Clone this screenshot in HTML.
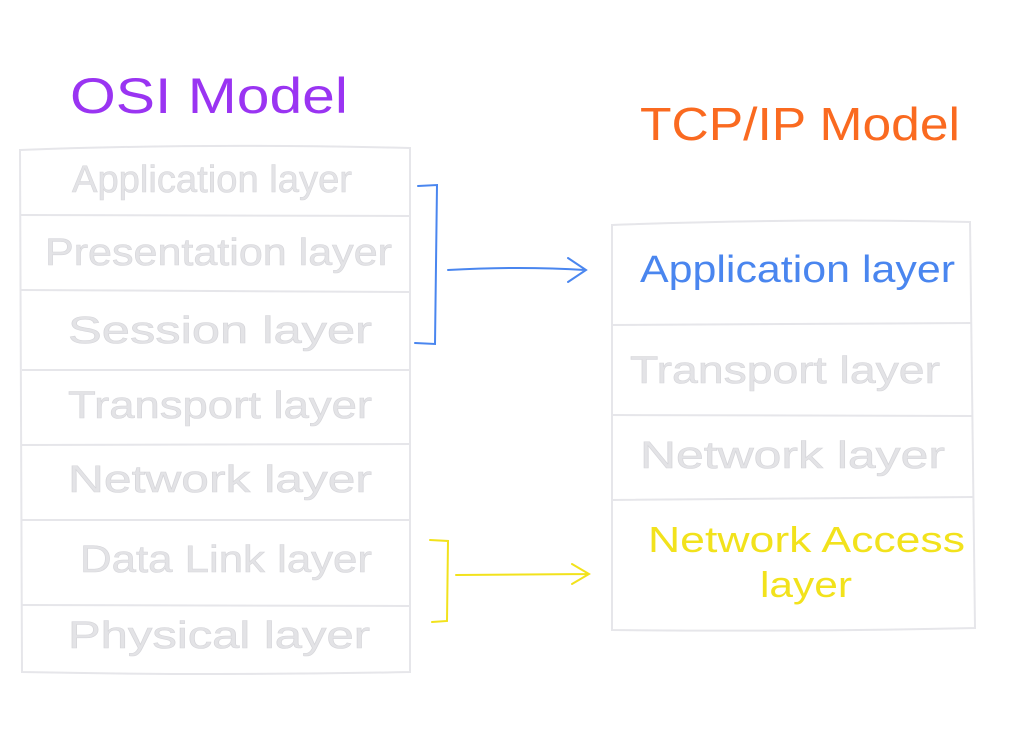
<!DOCTYPE html>
<html><head><style>html,body{margin:0;padding:0;background:#fff;width:1024px;height:739px;overflow:hidden}</style></head>
<body>
<svg width="1024" height="739" viewBox="0 0 1024 739" xmlns="http://www.w3.org/2000/svg" font-family="Liberation Sans, sans-serif">
<rect width="1024" height="739" fill="#fff"/>
<g fill="none" stroke="#e6e6ea" stroke-width="2">
<path d="M20 150 Q200 143 410 148 L410 672 Q220 676 22 672 Z"/>
<path d="M20 215 L410 216 M20 290 L410 292 M22 370 L410 370 M22 445 L410 444 M22 520 L410 520 M22 605 L410 606"/>
<path d="M612 225 Q800 218 970 222 L975 628 Q800 632 612 630 Z"/>
<path d="M612 325 L972 323 M612 415 L972 416 M612 500 L974 497"/>
</g>
<g fill="#e3e3e6" stroke="#d6d6da" stroke-width="0.6" font-size="38">
<text x="72" y="192" textLength="280" lengthAdjust="spacingAndGlyphs">Application layer</text>
<text x="45" y="265" textLength="347" lengthAdjust="spacingAndGlyphs">Presentation layer</text>
<text x="68" y="343" textLength="304" lengthAdjust="spacingAndGlyphs">Session layer</text>
<text x="68" y="418" textLength="304" lengthAdjust="spacingAndGlyphs">Transport layer</text>
<text x="68" y="492" textLength="304" lengthAdjust="spacingAndGlyphs">Network layer</text>
<text x="80" y="572" textLength="292" lengthAdjust="spacingAndGlyphs">Data Link layer</text>
<text x="68" y="648" textLength="302" lengthAdjust="spacingAndGlyphs">Physical layer</text>
<text x="630" y="383" textLength="310" lengthAdjust="spacingAndGlyphs">Transport layer</text>
<text x="640" y="468" textLength="305" lengthAdjust="spacingAndGlyphs">Network layer</text>
</g>
<text x="70" y="113" font-size="50" fill="#9a34f2" textLength="278" lengthAdjust="spacingAndGlyphs">OSI Model</text>
<text x="640" y="140" font-size="46" fill="#fa6a20" textLength="320" lengthAdjust="spacingAndGlyphs">TCP/IP Model</text>
<text x="640" y="282" font-size="38" fill="#4a86ef" textLength="315" lengthAdjust="spacingAndGlyphs">Application layer</text>
<text x="648" y="552" font-size="36" fill="#f2e21c" textLength="317" lengthAdjust="spacingAndGlyphs">Network Access</text>
<text x="760" y="597" font-size="36" fill="#f2e21c" textLength="92" lengthAdjust="spacingAndGlyphs">layer</text>
<g fill="none" stroke="#4a86ef" stroke-width="2" stroke-linecap="round">
<path d="M418 186 L437 185 L435 344 L415 343"/>
<path d="M448 270 Q520 266 585 270 M568 258 L586 270 L568 282"/>
</g>
<g fill="none" stroke="#f2e21c" stroke-width="2" stroke-linecap="round">
<path d="M430 540 L448 541 L447 621 L432 622"/>
<path d="M456 575 L588 574 M572 564 L589 574 L572 584"/>
</g>
</svg>
</body></html>
